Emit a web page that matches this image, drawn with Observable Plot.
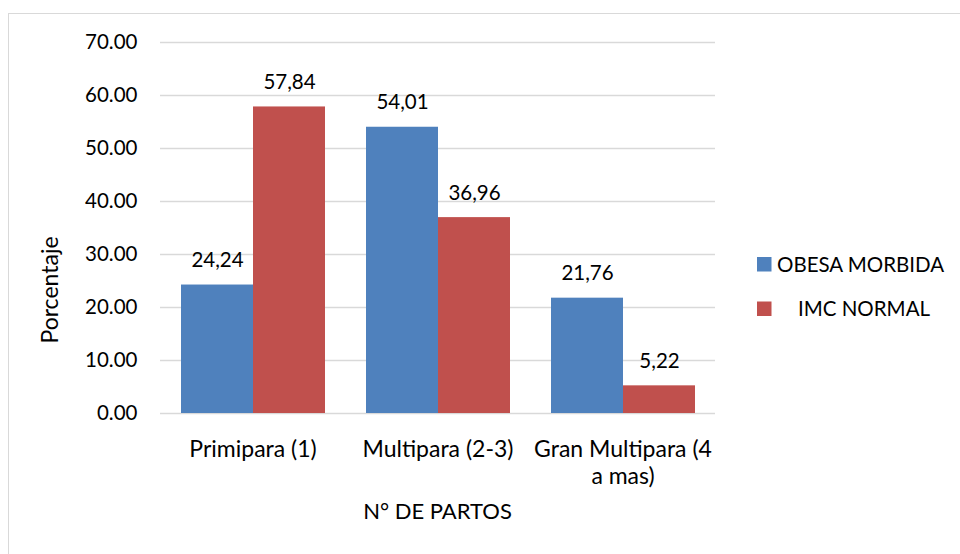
<!DOCTYPE html>
<html>
<head>
<meta charset="utf-8">
<script src="https://cdn.jsdelivr.net/npm/d3@7"></script>
<script src="https://cdn.jsdelivr.net/npm/@observablehq/plot@0.6"></script>
<style>
  html, body { margin: 0; padding: 0; background: #fff; }
  #wrap { position: relative; width: 960px; height: 554px; overflow: hidden; font-family: Lato, "Open Sans", sans-serif; }
  #border { position: absolute; left: 8px; top: 13px; width: 1000px; height: 600px; border: 1px solid #d9d9d9; box-sizing: border-box; }
  #chart, #overlay { position: absolute; left: 0; top: 0; }
</style>
</head>
<body>
<div id="wrap">
  <div id="border"></div>
  <div id="chart"></div>
  <svg id="overlay" width="960" height="554"></svg>
</div>
<script>
const categories = ["Primipara (1)", "Multipara (2-3)", "Gran Multipara (4 a mas)"];
const categoryTickLabels = ["Primipara (1)", "Multipara (2-3)", "Gran Multipara (4\na mas)"];
const series = ["OBESA MORBIDA", "IMC NORMAL"];
const legendLabels = ["OBESA MORBIDA", "    IMC NORMAL"];
const obesaMorbida = [24.24, 54.01, 21.76];
const imcNormal = [57.84, 36.96, 5.22];
const yTicks = [0, 10, 20, 30, 40, 50, 60, 70];
const colors = ["#4f81bd", "#c0504d"];
const yTitle = "Porcentaje";
const xTitle = "N° DE PARTOS";

const data = [];
categories.forEach((c, i) => {
  data.push({cat: c, serie: series[0], value: obesaMorbida[i]});
  data.push({cat: c, serie: series[1], value: imcNormal[i]});
});

const fmtComma = v => v.toFixed(2).replace(".", ",");
const FONT = "Lato, 'Open Sans', sans-serif";

const plot = Plot.plot({
  width: 960,
  height: 554,
  marginLeft: 160,
  marginRight: 245,
  marginTop: 42,
  marginBottom: 141,
  style: {fontFamily: FONT, fontSize: "20.5px", color: "#000", background: "transparent"},
  fx: {domain: categories, padding: 0, label: null},
  x: {domain: series, paddingInner: 0, paddingOuter: 0.27, axis: null},
  y: {domain: [0, 70]},
  color: {domain: series, range: colors},
  marks: [
    Plot.ruleY(yTicks, {stroke: "#d9d9d9", strokeWidth: 1.3}),
    Plot.barY(data, {fx: "cat", x: "serie", y: "value", fill: "serie", inset: 0}),
    Plot.text(data, {fx: "cat", x: "serie", y: "value", text: d => fmtComma(d.value), lineAnchor: "bottom", dy: -18, fill: "#000", fontSize: 20.5}),
    Plot.axisY({ticks: yTicks, tickFormat: d => d.toFixed(2), tickSize: 0, tickPadding: 23, label: null, fontSize: 20.5}),
    Plot.axisFx({anchor: "bottom", tickSize: 0, tickPadding: 24, fontSize: 23, lineHeight: 1.18, tickFormat: d => categoryTickLabels[categories.indexOf(d)], label: null})
  ]
});
document.getElementById("chart").appendChild(plot);

const ov = d3.select("#overlay").style("font-family", FONT);
// axis titles
ov.append("text")
  .attr("transform", "translate(58,290) rotate(-90)")
  .attr("text-anchor", "middle")
  .attr("font-size", 23)
  .attr("fill", "#000")
  .text(yTitle);
ov.append("text")
  .attr("x", 437.5).attr("y", 519)
  .attr("text-anchor", "middle")
  .attr("font-size", 22)
  .attr("fill", "#000")
  .text(xTitle);
// legend
const legBase = [271.5, 316];
series.forEach((s, i) => {
  ov.append("rect").attr("x", 757).attr("y", legBase[i] - 14.5).attr("width", 14.5).attr("height", 14.5).attr("fill", colors[i]);
  ov.append("text").attr("x", 777).attr("y", legBase[i]).attr("font-size", 20.5).attr("fill", "#000")
    .attr("xml:space", "preserve").style("white-space", "pre").text(legendLabels[i]);
});
</script>
</body>
</html>
